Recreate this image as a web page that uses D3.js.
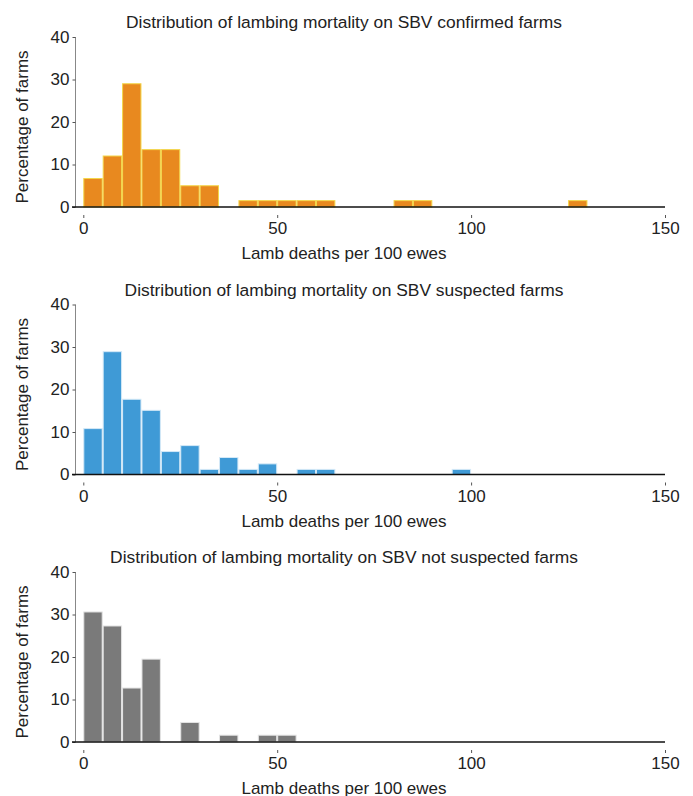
<!DOCTYPE html>
<html><head><meta charset="utf-8">
<script src="https://cdn.jsdelivr.net/npm/d3@7"></script>
<style>
html,body{margin:0;padding:0;background:#fff;}
svg{display:block;}
text{font-family:"Liberation Sans",Arial,Helvetica,sans-serif;fill:#222;}
</style></head>
<body>
<svg id="chart" width="693" height="796"></svg>
<script>
// bin edges: 0,5,10,...,150 (lamb deaths per 100 ewes)
const binWidth = 5;
const binStarts = d3.range(0, 150, binWidth);
const titles = [
  "Distribution of lambing mortality on SBV confirmed farms",
  "Distribution of lambing mortality on SBV suspected farms",
  "Distribution of lambing mortality on SBV not suspected farms"
];
const confirmed = [6.7,12,29,13.5,13.5,5,5,0,1.5,1.5,1.5,1.5,1.5,0,0,0,1.5,1.5,0,0,0,0,0,0,0,1.5,0,0,0,0];
const suspected = [10.8,28.9,17.7,15.1,5.4,6.8,1.2,4.0,1.2,2.5,0,1.2,1.2,0,0,0,0,0,0,1.2,0,0,0,0,0,0,0,0,0,0];
const notSuspected = [30.6,27.3,12.7,19.5,0,4.6,0,1.6,0,1.6,1.6,0,0,0,0,0,0,0,0,0,0,0,0,0,0,0,0,0,0,0];
const xTicks = [0,50,100,150];
const yTicks = [0,10,20,30,40];
const xLabel = "Lamb deaths per 100 ewes";
const yLabel = "Percentage of farms";

const series = [confirmed, suspected, notSuspected];
const fills = ["#E8891F", "#3F9AD6", "#7A7A7A"];
const strokes = ["#F3D64A", "#D4E9F7", "#E4E4E4"];

const svg = d3.select("#chart");
const x = d3.scaleLinear().domain([0,150]).range([83.3,665]);
const panelTops = [37, 304.5, 572];
const panelH = 170;

series.forEach((vals, i) => {
  const top = panelTops[i];
  const y = d3.scaleLinear().domain([0,40]).range([top+panelH, top]);
  const g = svg.append("g");

  // title
  g.append("text").attr("x", 344).attr("y", top-9)
    .attr("text-anchor","middle").style("font-size","17.4px").text(titles[i]);

  // bars
  const data = binStarts.map((s,k)=>({x0:s, x1:s+binWidth, v:vals[k]})).filter(d=>d.v>0);
  g.selectAll("rect.bar").data(data).enter().append("rect")
    .attr("class","bar")
    .attr("x", d=>x(d.x0)+0.5)
    .attr("width", d=>x(d.x1)-x(d.x0)-1)
    .attr("y", d=>y(d.v))
    .attr("height", d=>y(0)-y(d.v))
    .attr("fill", fills[i])
    .attr("stroke", strokes[i])
    .attr("stroke-width", 1);

  // y axis
  const yAxis = g.append("g").attr("transform", `translate(75.5,0)`)
    .call(d3.axisLeft(y).tickValues(yTicks).tickSize(3).tickPadding(3));
  yAxis.select(".domain").attr("stroke","#888").attr("d", `M0,${y(40)}V${y(0)}`);
  yAxis.selectAll(".tick line").attr("stroke","#555");
  yAxis.selectAll(".tick text").style("font-size","17px").style("font-family",'"Liberation Sans",Arial,sans-serif').attr("fill","#222");

  // x axis line
  g.append("line").attr("x1",72).attr("x2",665).attr("y1",y(0)).attr("y2",y(0))
    .attr("stroke","#111").attr("stroke-width",1.5);
  // x axis ticks (detached below line)
  const xAxis = g.append("g").attr("transform", `translate(0,${y(0)+8})`)
    .call(d3.axisBottom(x).tickValues(xTicks).tickSize(3).tickPadding(4).tickFormat(d3.format("d")));
  xAxis.select(".domain").remove();
  xAxis.selectAll(".tick line").attr("stroke","#555");
  xAxis.selectAll(".tick text").style("font-size","17px").style("font-family",'"Liberation Sans",Arial,sans-serif').attr("fill","#222");

  // x label
  g.append("text").attr("x", 344).attr("y", top+panelH+52)
    .attr("text-anchor","middle").style("font-size","17px").text(xLabel);
  // y label
  g.append("text").attr("transform", `translate(28,${top+panelH/2+5}) rotate(-90)`)
    .attr("text-anchor","middle").style("font-size","17px").text(yLabel);
});
</script>
</body></html>
